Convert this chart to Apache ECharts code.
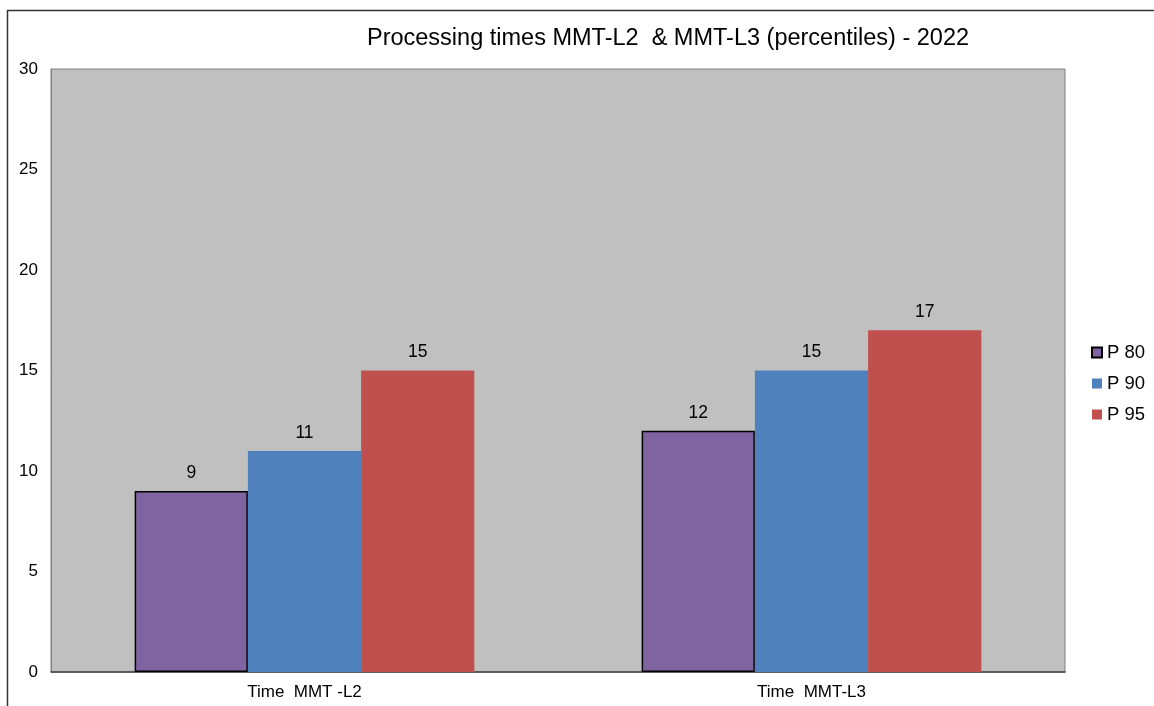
<!DOCTYPE html>
<html>
<head>
<meta charset="utf-8">
<script src="https://cdn.jsdelivr.net/npm/echarts@6/dist/echarts.min.js"></script>
<style>
html,body{margin:0;padding:0;background:#fff;}
#main{width:1154px;height:706px;}
</style>
</head>
<body>
<div id="main"></div>
<script>
var categories = ['Time  MMT -L2', 'Time  MMT-L3'];
var seriesNames = ['P 80', 'P 90', 'P 95'];
var p80 = [9, 12];
var p90 = [11, 15];
var p95 = [15, 17];
var yTicks = { min: 0, max: 30, interval: 5 };
var titleText = 'Processing times MMT-L2  & MMT-L3 (percentiles) - 2022';

var FONT = '"Liberation Sans", Arial, sans-serif';
var chart = echarts.init(document.getElementById('main'));

function bar(name, data, color, border) {
  return {
    name: name,
    type: 'bar',
    data: data,
    barGap: '0%',
    barCategoryGap: '33%',
    itemStyle: {
      color: color,
      borderColor: border ? '#000' : color,
      borderWidth: border ? 1.5 : 0
    },
    label: {
      show: true,
      position: 'top',
      distance: 9,
      color: '#000',
      fontFamily: FONT,
      fontSize: 17.5
    }
  };
}

chart.setOption({
  backgroundColor: '#fff',
  animation: false,
  title: {
    text: titleText,
    left: 663,
    textAlign: 'center',
    top: 22,
    textStyle: { fontFamily: FONT, fontSize: 23.5, fontWeight: 'normal', color: '#000' }
  },
  graphic: [{
    type: 'rect',
    shape: { x: 7.5, y: 10.5, width: 1300, height: 900 },
    style: { fill: 'none', stroke: '#333', lineWidth: 1.5 },
    silent: true
  }],
  legend: {
    orient: 'vertical',
    left: 1086,
    top: 338,
    itemWidth: 10,
    itemHeight: 10,
    itemGap: 12,
    icon: 'rect',
    textStyle: { fontFamily: FONT, fontSize: 18.5, color: '#000' },
    data: seriesNames
  },
  grid: {
    left: 51, right: 89, top: 69, bottom: 34,
    show: true,
    backgroundColor: '#C0C0C0',
    borderColor: '#808080',
    borderWidth: 1
  },
  xAxis: {
    type: 'category',
    data: categories,
    axisLine: { show: true, lineStyle: { color: '#404040', width: 1.5 } },
    axisTick: { show: false },
    axisLabel: { color: '#000', fontFamily: FONT, fontSize: 17, margin: 12 }
  },
  yAxis: {
    type: 'value',
    min: yTicks.min,
    max: yTicks.max,
    interval: yTicks.interval,
    axisLine: { show: true, lineStyle: { color: '#808080' } },
    axisTick: { show: false },
    splitLine: { show: false },
    axisLabel: { color: '#000', fontFamily: FONT, fontSize: 17, margin: 13 }
  },
  series: [
    bar(seriesNames[0], p80, '#8064A2', true),
    bar(seriesNames[1], p90, '#4F81BD', false),
    bar(seriesNames[2], p95, '#C0504D', false)
  ]
});
</script>
</body>
</html>
